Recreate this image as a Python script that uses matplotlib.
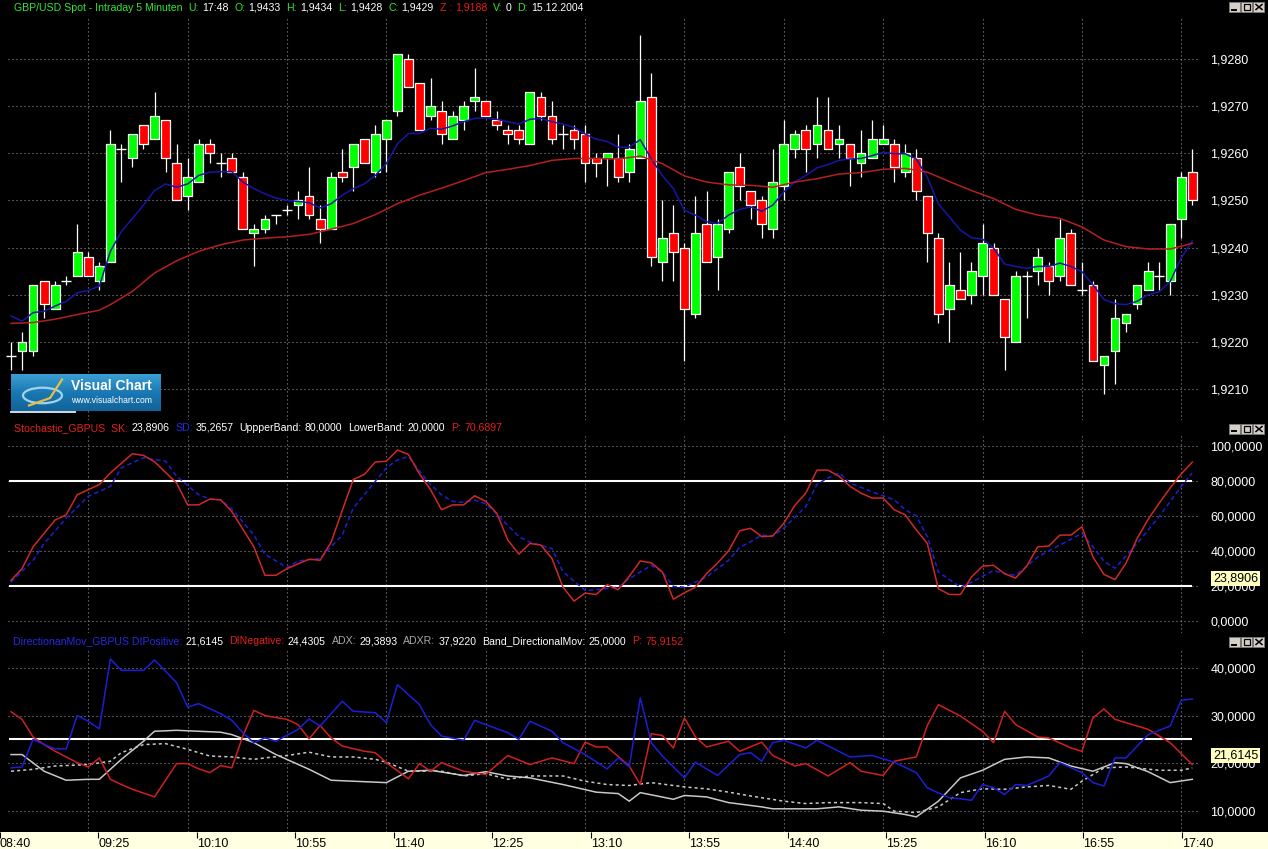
import numpy as np
import matplotlib
matplotlib.use('Agg')
import matplotlib.pyplot as plt
from matplotlib.patches import Rectangle, Ellipse
from matplotlib.lines import Line2D
from matplotlib.ticker import FuncFormatter

# ---------------- data ----------------
# 5 minute candles GBP/USD, bar 1 = 08:50 ... bar 108 = 17:45
# prices kept in pips above 1.9200
open_pips = [17,18,18,33,27,33,34,38,33,37, 61,59,66,63,67,58,51,54,62,58,
             59,55,43,44,47,48,49,51,46,44, 56,57,63,56,63,69,80,75,68,69,
             63,67,71,71,67,65,65,62,72,68, 64,65,64,59,59,59,56,59,72,37,
             43,40,26,45,38,44,57,52,50,44, 53,61,65,62,65,62,62,58,59,62,
             62,56,59,51,42,27,31,30,34,40, 29,20,34,35,36,34,43,31,32,15,
             18,24,28,31,34,33,46,56]
high_pips = [20,22,32,33,33,34,45,39,37,65, 62,64,66,73,67,62,59,63,63,60,
             60,56,45,47,47,49,52,57,49,56, 61,62,63,66,67,81,81,75,76,71,
             69,71,78,71,69,66,66,73,73,71, 66,66,66,60,60,64,62,85,77,50,
             49,41,51,52,46,56,60,52,51,61, 67,65,66,72,72,66,62,65,67,66,
             63,62,61,51,43,37,39,37,45,41, 29,35,35,40,37,46,44,37,33,17,
             29,26,32,37,37,45,56,61]
low_pips = [14,14,17,25,27,32,34,34,31,37, 54,57,61,63,56,50,48,54,58,55,
            56,44,36,43,45,47,46,46,41,44, 54,52,58,55,56,68,74,65,67,62,
            63,65,69,68,65,62,62,62,67,62, 61,61,54,55,53,54,54,59,36,33,
            33,16,25,37,31,43,50,46,42,42, 50,59,56,59,61,59,53,55,59,62,
            54,55,50,37,24,20,29,28,30,30, 14,20,25,32,30,33,32,30,16,9,
            11,22,27,31,31,30,42,49]
close_pips = [17,20,32,28,32,33,39,34,36,62, 61,64,62,68,59,50,55,62,60,58,
              56,44,44,46,47,48,50,47,44,55, 55,62,58,64,67,81,74,65,70,64,
              68,70,72,68,66,64,63,73,68,63, 64,63,58,58,60,55,61,71,38,42,
              39,27,43,37,45,56,53,49,45,54, 62,64,61,66,61,63,59,60,63,63,
              57,60,52,43,26,32,29,35,41,30, 21,34,34,38,33,42,32,31,16,17,
              25,26,32,35,34,45,55,50]

# fast (blue) and slow (red) moving averages, pips
fast_ma = [25.5,24.4,26.2,26.5,27.6,28.6,30.4,30.9,31.8,39.2, 43.4,46.2,49.0,52.1,53.5,52.8,53.5,55.3,56.0,56.1,
           56.1,53.9,52.5,51.4,50.5,50.0,49.8,49.5,48.4,49.3, 51.1,52.5,53.5,55.3,57.8,62.0,64.2,64.2,65.3,65.1,
           65.8,66.7,67.4,67.5,67.2,66.7,66.2,67.2,67.4,66.7, 66.2,65.5,64.1,63.0,62.5,61.3,61.3,62.9,58.8,55.3,
           52.5,47.9,46.9,45.5,45.1,46.9,48.1,48.6,47.7,49.0, 51.8,53.9,55.3,56.9,57.6,58.5,58.8,58.9,59.5,60.2,
           59.9,59.9,58.8,54.9,49.3,46.5,43.7,42.1,41.8,39.9, 36.5,36.0,35.6,36.0,36.0,36.7,36.0,34.9,32.1,29.0,
           28.1,27.9,28.6,30.0,30.6,32.8,37.8,41.4]
slow_ma_bar = [1,3,5,7,9,10] + list(range(12, 109, 2))
slow_ma = [23.9,24.1,24.8,25.8,26.7,27.9, 30.7,34.6,37.2,39.2,40.6,41.6,42.0,42.3,42.8,43.9,
           45.1,47.0,49.3,51.1,52.6,54.2,55.9,56.6,57.4,58.5, 58.9,58.9,58.8,59.4,57.8,55.2,53.9,53.3,53.2,52.8,
           53.9,54.6,55.6,55.9,56.6,56.8,56.0,54.0,52.1,50.4, 48.1,46.9,46.2,44.4,41.6,40.2,39.7,39.7,40.9]

# stochastic
sk_bar = [1,2,3,5,6,7,9,10,12,13,14,16,17,18,19,20,21,23,24,25,26,28,29,30,31,32,33,34,35,36] + list(range(37, 109))
sk_val = [23.1,29.8,42.3,57.7,60.6,72.1,77.9,84.6,95.6,94.6, 91.0,78.8,66.3,66.3,69.6,69.2,62.5,42.3,26.0,26.0,
          29.8,35.2,34.6,45.0,63.0,80.8,83.7,90.8,91.3,97.7,
          95.2,84.0,75.0,63.5,66.3,66.3,71.5,68.3,61.5,46.2,38.1,44.2,43.3,35.6,19.2,11.2,15.8,15.0,20.6,17.7,
          25.4,34.2,33.1,27.9,12.3,16.0,19.2,26.9,33.0,40.0,51.5,52.9,48.1,48.5,55.8,66.0,73.1,86.2,86.2,82.7,
          76.9,73.0,70.2,70.2,63.5,60.6,52.0,44.2,18.3,15.0,15.0,25.0,31.2,31.7,26.9,24.4,31.2,42.3,42.7,49.0,
          49.0,53.8,36.5,26.5,23.5,33.0,47.0,58.0,67.3,76.0,84.0,90.8]
sd_bar = [1,3,4,6,8,10,11,13,15,16, 18,19,20,21,23,24,26,27,29,31, 32,34,35,36,37,38,39,40,41,42,
          43,44,45,47,48,50,51,53,54,56, 57,59,60,61,62,64,66,67,68,69, 70,71,73,74,75,76,77,79,81,82,
          83,84,85,87,88,90,91,92,94,96, 98,99,100,101,103,105,107,108]
sd_val = [22.1,34.6,44.2,58.7,71.2,76.9,87.5,93.3,91.3,82.7, 72.1,69.6,69.2,64.0,49.0,38.0,30.4,34.2,35.6,49.0,
          64.4,79.8,87.5,92.0,94.0,85.6,78.0,72.0,68.3,67.7, 69.0,67.0,61.0,48.1,45.0,41.3,28.0,17.3,17.7,19.2,
          24.0,31.7,27.9,19.6,19.2,25.0,34.6,42.0,45.2,49.0, 48.5,52.9,65.4,78.0,81.7,84.6,78.8,73.8,69.2,63.5,
          60.0,48.1,27.9,19.2,22.0,28.8,26.9,26.0,36.5,43.3, 50.0,42.3,34.0,30.0,44.2,59.6,76.9,84.6]
stoch_bands = [20, 80]

# directional movement
dip_bar = [1,2,3,4,5,6,7,8,9,10,11, 13,14,16,17,18, 20,21,22,23,24,25, 27,28,29, 31,32, 34,35,36, 38,39,40,
           42,43,44, 46,47,48, 50,51, 53, 55,56,57,58,59,60, 62,63, 65, 67,68,69,70,71, 73,74, 77,79, 81,
           83,84, 86,87,88,89,90,91,92,93, 95,96, 98,99,100,101,102, 104, 106,107,108]
dip_val = [19.0,19.2,25.0,23.9,23.0,23.0,30.0,28.8,27.2,41.9,39.5, 39.5,41.7,36.9,31.8,32.5,
           30.4,29.0,26.4,24.3,25.3,24.6, 27.1,29.3,27.8, 33.0,30.9, 30.6,28.5,36.5, 32.3,28.1,25.7,
           24.8,29.0,28.1, 26.4,25.0,28.8, 26.7,24.3, 21.8, 18.8,21.1,19.2,33.7,24.3,21.5, 16.9,20.2, 17.4,
           21.8,22.2,20.4,24.3,24.8, 23.2,24.8, 21.3,21.6, 20.2, 18.0,14.8, 12.7,12.5,12.2,15.5,14.8,13.4,15.5,15.3,
           17.3,20.1, 18.0,15.9,15.2,21.1,21.1, 26.0, 27.8,33.2,33.5]
din_bar = [1,2,3,4,5, 7,8,9,10,11,12, 14, 16,17,18,19,20,21,22,23,24, 26,27,28,29,30,31, 33,34,35,
           37,38,39,40, 42, 44, 46, 48, 50, 52,53,54,55, 57,58,59,60,61,62,63,64, 66,67, 69,70, 72,73, 75,
           77,78, 80,81, 83,84,85, 87, 89,90,91,92, 94,95, 97,98,99,100,101, 104, 106, 108]
din_val = [30.8,29.2,25.5,23.9,22.5, 20.1,19.2,21.1,16.6,15.5,14.5, 12.9, 19.9,19.9,18.8,18.0,19.5,19.0,25.7,31.1,30.0,
           29.2,28.1,25.1,27.9,25.3,23.6, 22.5,22.2,20.1, 16.7,19.9,18.3,20.1, 18.3, 17.6, 21.6, 19.7, 21.1,
           19.9,24.4,23.4,23.4, 19.4,15.5,26.2,25.8,23.2,29.5,25.5,23.4, 24.6,22.5, 24.4,21.6, 19.4,19.9, 17.3,
           20.1,18.3, 17.4,20.4, 21.3,27.9,32.3, 29.9, 26.7,24.3,30.9,28.1, 25.5,25.3, 23.2,22.5,29.5,31.4,29.2,
           27.1, 24.3, 19.7]
adx_bar = [1,2,4,6,8,9,11,13,14,16, 18,20,21,23,25,28,30,32,35,37, 39,42,44,46,48,51,54,56,57,58,
           61,62,64,66,69,70,74,76,78,80, 82,83,85,87,89,91,93,95,97,99, 101,102,104,106,108]
adx_val = [21.8,21.8,18.3,16.4,16.6,16.6,20.8,24.6,26.7,26.9, 26.7,26.5,26.0,24.3,21.8,18.7,16.4,16.2,15.9,18.3,
           18.5,17.4,18.2,17.3,16.9,15.5,13.9,13.6,12.0,13.8, 12.4,13.2,12.9,11.7,10.8,10.4,10.4,10.8,10.1,9.9,
           9.2,8.7,12.0,16.9,18.5,20.8,21.3,21.1,19.4,18.3, 20.1,19.9,18.2,15.9,16.6]
adxr_bar = [1,3,5,8,10,11,13,15,17,19, 21,23,24,26,28,30,32,34,35,37, 40,42,44,46,48,51,53,55,57,59,
            62,64,66,68,71,73,75,78,80,81, 83,85,87,89,91,93,95,97,98,100, 102,105,107,108]
adxr_val = [18.3,18.7,19.4,19.7,20.4,22.2,23.9,24.1,22.9,21.5, 21.3,20.8,21.1,21.6,22.3,21.3,21.3,20.8,20.2,18.3,
            18.3,17.3,17.8,16.6,17.3,17.3,16.2,15.5,15.3,15.9, 15.0,14.6,13.9,13.1,12.0,11.5,11.7,11.7,11.5,9.9,
            9.6,10.8,13.8,14.6,14.5,15.0,15.3,14.5,16.2,19.0, 19.2,18.5,18.5,19.0]
dmi_band = 25

time_labels = ['08:40','09:25','10:10','10:55','11:40','12:25','13:10',
               '13:55','14:40','15:25','16:10','16:55','17:40']
first_bar_time = '08:50'
price_ticks = [1.9210,1.9220,1.9230,1.9240,1.9250,1.9260,1.9270,1.9280]
stoch_ticks = [0,20,40,60,80,100]
dmi_ticks = [10,20,30,40]

G, WT, R, B, GY = '#33E633', 'white', '#E61E1E', '#2828E6', '#A8A8A8'
head_price = [('GBP/USD Spot - Intraday 5 Minuten', G, 6), ('U:', G, 3), ('17:48', WT, 6),
              ('O:', G, 3), ('1,9433', WT, 6), ('H:', G, 3), ('1,9434', WT, 6),
              ('L:', G, 3), ('1,9428', WT, 6), ('C:', G, 3), ('1,9429', WT, 6),
              ('Z :', R, 3), ('1,9188', R, 6), ('V:', G, 3), ('0', WT, 6),
              ('D:', G, 3), ('15.12.2004', WT, 0)]
head_stoch = [('Stochastic_GBPUS  SK:', R, 3), ('23,8906', WT, 6), ('SD:', B, 3), ('35,2657', WT, 6),
              ('UppperBand:', WT, 3), ('80,0000', WT, 6), ('LowerBand:', WT, 3), ('20,0000', WT, 6),
              ('P:', R, 3), ('70,6897', R, 0)]
head_dmi = [('DirectionanMov_GBPUS DIPositive:', B, 3), ('21,6145', WT, 6), ('DINegative:', R, 3),
            ('24,4305', WT, 6), ('ADX:', GY, 3), ('29,3893', WT, 6), ('ADXR:', GY, 3), ('37,9220', WT, 6),
            ('Band_DirectionalMov:', WT, 3), ('25,0000', WT, 6), ('P:', R, 3), ('75,9152', R, 0)]
flag_stoch = 23.8906
flag_dmi = 21.6145

# ---------------- layout ----------------
W, H = 1268, 849
plt.rcParams['font.family'] = ['Liberation Sans', 'DejaVu Sans']
fig = plt.figure(figsize=(W / 100, H / 100), dpi=100, facecolor='black')

BAR0_PX, BAR_PX = 11.0, 11.04          # pixel of bar 1, pixels per bar
def bar_at(px):
    return 1 + (px - BAR0_PX) / BAR_PX

def val_lim(top_px, bot_px, v1, y1, v2, y2):
    k = (v2 - v1) / (y2 - y1)
    return v1 + (bot_px - y1) * k, v1 + (top_px - y1) * k

def px_axes(left, top, right, bottom):
    ax = fig.add_axes([left / W, 1 - bottom / H, (right - left) / W, (bottom - top) / H])
    ax.set_facecolor('black')
    for s in ax.spines.values():
        s.set_visible(False)
    return ax

def comma(dec):
    return FuncFormatter(lambda v, p: f'{v:.{dec}f}'.replace('.', ','))

def tmin(t):
    h, m = t.split(':')
    return int(h) * 60 + int(m)

tick_pos = [1 + (tmin(t) - tmin(first_bar_time)) / 5 for t in time_labels]
GRID = dict(color='#8f8f8f', lw=0.8, ls=(0, (1, 2.6)), zorder=1)
idx = np.arange(1, len(open_pips) + 1)

def setup_right(ax, ticks, dec):
    ax.set_xlim(bar_at(0), bar_at(1200))
    ax.set_xticks([])
    ax.yaxis.tick_right()
    ax.set_yticks(ticks)
    ax.yaxis.set_major_formatter(comma(dec))
    ax.tick_params(axis='y', length=0, pad=7.5, labelcolor='white', labelsize=9)
    for v in ticks:
        ax.axhline(v, xmin=8 / 1200, xmax=1, **GRID)

# ---- price panel
ax1 = px_axes(0, 0, 1200, 420)
ax1.set_ylim(*val_lim(0, 420, 1.9280, 59, 1.9210, 389))
setup_right(ax1, price_ticks, 4)
for p in tick_pos:
    ax1.axvline(p, ymin=0, ymax=(420 - 16) / 420, **GRID)

o = 1.92 + np.array(open_pips) / 1e4
h = 1.92 + np.array(high_pips) / 1e4
l = 1.92 + np.array(low_pips) / 1e4
c = 1.92 + np.array(close_pips) / 1e4
flat = np.array(open_pips) == np.array(close_pips)
up = np.array(close_pips) > np.array(open_pips)
ax1.vlines(idx, l, h, color='white', lw=0.9, zorder=2)
cols = np.where(up, '#00FF00', '#FF0000')
ax1.bar(idx[~flat], (c - o)[~flat], bottom=o[~flat], width=0.8, color=cols[~flat],
        edgecolor='white', linewidth=0.9, zorder=3)
ax1.hlines(o[flat], idx[flat] - 0.45, idx[flat] + 0.45, color='white', lw=1.0, zorder=3)
ax1.plot(idx, 1.92 + np.array(fast_ma) / 1e4, color='#1616A8', lw=1.1, zorder=4)
ax1.plot(slow_ma_bar, 1.92 + np.array(slow_ma) / 1e4, color='#B42020', lw=1.1, zorder=4)

# ---- stochastic panel
ax2 = px_axes(0, 420, 1200, 633)
ax2.set_ylim(*val_lim(420, 633, 100, 446, 0, 620.7))
setup_right(ax2, stoch_ticks, 4)
for p in tick_pos:
    ax2.axvline(p, ymin=0, ymax=(633 - 436) / 213, **GRID)
ax2.hlines(stoch_bands, idx[0] - 0.2, idx[-1], color='white', lw=1.5, zorder=3)
ax2.plot(sd_bar, sd_val, color='#1E1ED8', lw=1.1, ls=(0, (3, 2)), zorder=4)
ax2.plot(sk_bar, sk_val, color='#D02828', lw=1.1, zorder=5)

# ---- DMI panel
ax3 = px_axes(0, 633, 1200, 832)
ax3.set_ylim(*val_lim(633, 832, 40, 668, 10, 810.7))
setup_right(ax3, dmi_ticks, 4)
for p in tick_pos:
    ax3.axvline(p, ymin=0, ymax=(832 - 648) / 199, **GRID)
ax3.hlines([dmi_band], idx[0] - 0.2, idx[-1], color='white', lw=1.5, zorder=3)
ax3.plot(adxr_bar, adxr_val, color='#C8C8C8', lw=1.1, ls=(0, (2, 2)), zorder=4)
ax3.plot(adx_bar, adx_val, color='#C8C8C8', lw=1.1, zorder=4)
ax3.plot(din_bar, din_val, color='#D02020', lw=1.1, zorder=5)
ax3.plot(dip_bar, dip_val, color='#1E1ED8', lw=1.1, zorder=6)

for ax, v in [(ax2, flag_stoch), (ax3, flag_dmi)]:
    ax.annotate(f'{v:.4f}'.replace('.', ','), xy=(1, v), xycoords=ax.get_yaxis_transform(),
                xytext=(9.3, 0), textcoords='offset points', ha='left', va='center',
                fontsize=9, color='black', annotation_clip=False, zorder=20,
                bbox=dict(boxstyle='square,pad=0.12', fc='#FFFFC0', ec='none'))

# ---- time strip
ax4 = px_axes(0, 832, W, 849)
ax4.set_facecolor('#FFFFE1')
ax4.set_xlim(bar_at(0), bar_at(W))
ax4.set_yticks([])
ax4.set_xticks(tick_pos)
ax4.xaxis.set_ticks_position('top')
ax4.tick_params(axis='x', direction='in', length=4, width=0.8, color='black', labeltop=False)
for p, t in zip(tick_pos, time_labels):
    ax4.text(p, 0.3, t, transform=ax4.get_xaxis_transform(), ha='left', va='center',
             fontsize=9, color='black')

# ---- headers
renderer = fig.canvas.get_renderer()
def chain(x_px, y_px, parts, size=7.6):
    x = x_px
    for s, col, gap in parts:
        t = fig.text(x / W, 1 - y_px / H, s, color=col, fontsize=size, ha='left', va='center')
        x += t.get_window_extent(renderer).width + gap

chain(14, 8, head_price)
chain(14, 428, head_stoch)
chain(13, 641, head_dmi)

# ---- window buttons
def buttons(y_top):
    for k in range(3):
        x0 = 1229 + k * 12
        fig.patches.append(Rectangle((x0 / W, 1 - (y_top + 10) / H), 11 / W, 10 / H,
                                     transform=fig.transFigure, fc='#D4D0C8', ec='#7a7a7a', lw=0.6))
    ln = lambda xs, ys, lw=1.0: fig.add_artist(Line2D([x / W for x in xs], [1 - y / H for y in ys],
                                                       color='black', lw=lw))
    ln([1232, 1236], [y_top + 7.5, y_top + 7.5], 1.4)
    fig.patches.append(Rectangle((1244 / W, 1 - (y_top + 8) / H), 6 / W, 6 / H,
                                 transform=fig.transFigure, fc='none', ec='black', lw=0.9))
    ln([1256, 1262], [y_top + 2.5, y_top + 7.5], 1.1)
    ln([1256, 1262], [y_top + 7.5, y_top + 2.5], 1.1)

buttons(2)
buttons(424)
buttons(637)

# ---- Visual Chart logo
lax = fig.add_axes([11 / W, 1 - 411 / H, 150 / W, 37 / H])
grad = np.linspace(0, 1, 64)[:, None] * np.ones((1, 2))
lax.imshow(grad, aspect='auto', cmap=matplotlib.colors.LinearSegmentedColormap.from_list(
    'vc', ['#3b9fd4', '#1a78b2', '#12639a']), extent=(0, 1, 0, 1), origin='upper')
lax.set_xlim(0, 1)
lax.set_ylim(0, 1)
lax.axis('off')
lax.add_patch(Ellipse((0.21, 0.42), 0.26, 0.42, fc='none', ec='#9fd3f0', lw=1.6))
lax.add_line(Line2D([0.12, 0.26, 0.34], [0.15, 0.35, 0.85], color='#e8c040', lw=1.6))
lax.text(0.4, 0.68, 'Visual Chart', color='white', fontsize=10, fontweight='bold', va='center')
lax.text(0.4, 0.28, 'www.visualchart.com', color='white', fontsize=6.2, va='center')
fig.patches.append(Rectangle((10 / W, 1 - 413 / H), 66 / W, 2.5 / H, transform=fig.transFigure,
                             fc='#C8D4E2', ec='none'))

fig.savefig('out.png', dpi=100, facecolor='black')
